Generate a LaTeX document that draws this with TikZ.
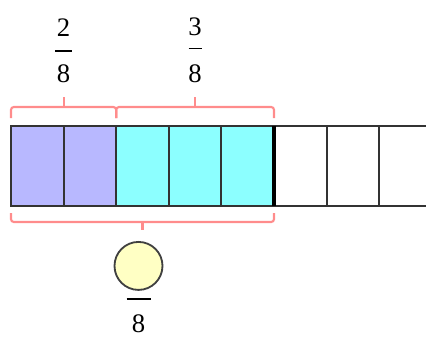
\documentclass[tikz,border=0pt]{standalone}
\usepackage{fontspec}
\setmainfont{Liberation Serif}
\usetikzlibrary{positioning,calc}
\definecolor{lav}{HTML}{B8B8FF}
\definecolor{cyn}{HTML}{8CFFFF}
\definecolor{brace}{HTML}{FF8C8C}
\definecolor{ylw}{HTML}{FFFFC4}
\begin{document}
\begin{tikzpicture}[
    cell/.style={draw=black!80, line width=1.4pt, minimum width=1.315cm, minimum height=2cm, inner sep=0pt, outer sep=0pt},
    brk/.style={draw=brace, line width=1.5pt, rounded corners=2pt},
    num/.style={font=\fontsize{19}{22}\selectfont, inner sep=0pt},
    bar/.style={line width=1.3pt}
]
\useasboundingbox (0,0) rectangle (10.65,-8.425);
\foreach \i/\c in {0/lav,1/lav,2/cyn,3/cyn,4/cyn,5/white,6/white,7/white}
  \node[cell, fill=\c, anchor=north west] (cell\i) at (0.275+1.315*\i,-3.15) {};
\draw[line width=2.4pt] (cell4.north east) -- (cell4.south east);

% brackets above
\draw[brk] ([yshift=2mm]cell0.north west) |- ([yshift=4.75mm]cell1.north east) -- ([yshift=2mm]cell1.north east);
\draw[brk] ([yshift=4.75mm]cell0.north east) -- ++(0,2.5mm) coordinate (tipA);
\draw[brk] ([yshift=2mm]cell2.north west) |- ([yshift=4.75mm]cell4.north east) -- ([yshift=2mm]cell4.north east);
\draw[brk] ([yshift=4.75mm]cell3.north) -- ++(0,2.5mm) coordinate (tipB);

\node[num, above=3.5mm of tipA] (denA) {8};
\node[num, above=6.8mm of denA] (numA) {2};
\draw[bar] ($(numA.south)!0.5!(denA.north)$) +(-0.21,0) -- +(0.21,0);

\node[num, above=3.5mm of tipB] (denB) {8};
\node[num, above=7.2mm of denB] (numB) {3};
\draw[bar] ($(numB.south)!0.45!(denB.north)$) +(-0.16,0) -- +(0.16,0);

% bracket below
\draw[brk] ([yshift=-1.75mm]cell0.south west) |- ([yshift=-4mm]cell4.south east) -- ([yshift=-1.75mm]cell4.south east);
\draw[brk] ([yshift=-4mm]cell2.south) -- ++(0,-2mm) coordinate (tipC);

\node[circle, draw=black!75, fill=ylw, line width=1.3pt, minimum size=1.2cm, inner sep=0pt, below=2.75mm of tipC, xshift=-1mm] (blank) {};
\draw[bar] ([yshift=-2mm]blank.south) +(-0.3,0) -- +(0.3,0);
\node[num, below=6mm of blank] (denC) {8};
\end{tikzpicture}
\end{document}
